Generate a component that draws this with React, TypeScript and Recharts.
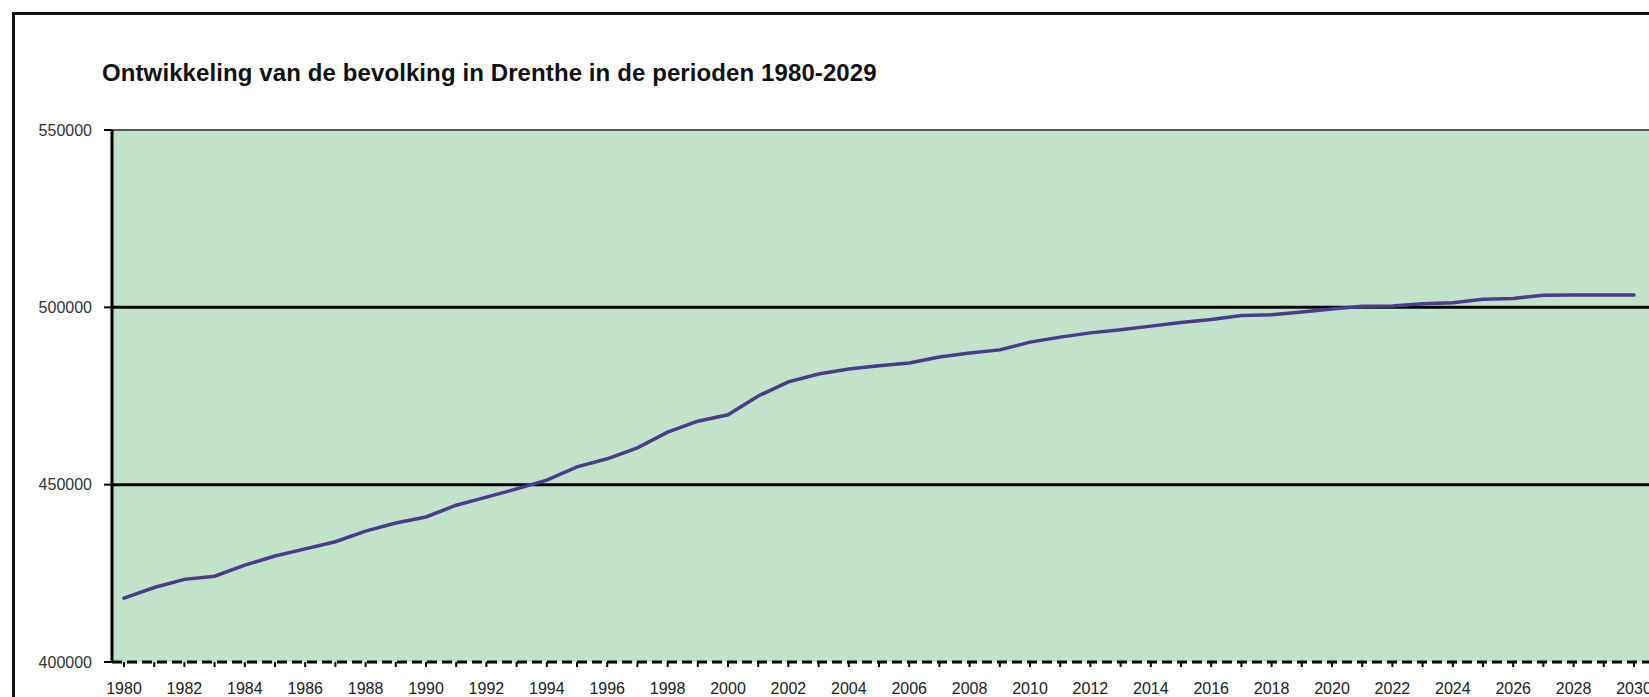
import { LineChart, Line, XAxis, YAxis, CartesianGrid, ReferenceLine } from "recharts";

const years = [
  1980, 1981, 1982, 1983, 1984, 1985, 1986, 1987, 1988, 1989,
  1990, 1991, 1992, 1993, 1994, 1995, 1996, 1997, 1998, 1999,
  2000, 2001, 2002, 2003, 2004, 2005, 2006, 2007, 2008, 2009,
  2010, 2011, 2012, 2013, 2014, 2015, 2016, 2017, 2018, 2019,
  2020, 2021, 2022, 2023, 2024, 2025, 2026, 2027, 2028, 2029, 2030,
];

const population = [
  418000, 421000, 423300, 424200, 427300, 429900, 431900, 433900, 436900, 439200,
  440900, 444200, 446500, 448800, 451300, 455000, 457300, 460400, 464800, 467900,
  469700, 475000, 479000, 481200, 482600, 483500, 484300, 486000, 487100, 488000,
  490200, 491600, 492800, 493700, 494700, 495700, 496600, 497700, 497900, 498700,
  499500, 500300, 500400, 501000, 501300, 502300, 502500, 503400, 503500, 503500, 503500,
];

const labelYears = [
  1980, 1982, 1984, 1986, 1988, 1990, 1992, 1994, 1996, 1998, 2000, 2002, 2004,
  2006, 2008, 2010, 2012, 2014, 2016, 2018, 2020, 2022, 2024, 2026, 2028, 2030,
];

const yTicks = [400000, 450000, 500000, 550000];

const chartData = years.map((year, i) => ({ year, inwoners: population[i] }));

const FONT = "Arial, 'Liberation Sans', sans-serif";

export default function App() {
  return (
    <div
      style={{
        position: "fixed",
        left: 0,
        top: 0,
        width: 1649,
        height: 697,
        overflow: "hidden",
        background: "#fff",
        fontFamily: FONT,
      }}
    >
      <div
        style={{
          position: "absolute",
          left: 12,
          top: 12,
          width: 1700,
          height: 760,
          border: "3px solid #111",
          boxSizing: "border-box",
        }}
      />
      <div
        style={{
          position: "absolute",
          left: 102,
          top: 59,
          fontSize: 24,
          fontWeight: "bold",
          color: "#111",
          whiteSpace: "nowrap",
          letterSpacing: 0.1,
        }}
      >
        Ontwikkeling van de bevolking in Drenthe in de perioden 1980-2029
      </div>
      <div style={{ position: "absolute", left: 0, top: 0 }}>
        <LineChart
          width={1720}
          height={740}
          data={chartData}
          margin={{ top: 130, right: 55, bottom: 38, left: 0 }}
        >
          <CartesianGrid fill="#c2e3ca" stroke="none" vertical={false} horizontal={false} />
          <XAxis
            dataKey="year"
            type="number"
            domain={[1980, 2030]}
            ticks={years}
            interval={0}
            padding={{ left: 12, right: 31 }}
            height={40}
            axisLine={{ stroke: "#000", strokeWidth: 3, strokeDasharray: "10 5" }}
            tickLine={{ stroke: "#000", strokeWidth: 2 }}
            tickSize={5}
            tickMargin={16}
            tickFormatter={(v) => (labelYears.includes(v) ? String(v) : "")}
            tick={{ fontSize: 16, fill: "#222", fontFamily: FONT }}
          />
          <YAxis
            type="number"
            domain={[400000, 550000]}
            ticks={yTicks}
            width={112}
            axisLine={{ stroke: "#000", strokeWidth: 3 }}
            tickLine={{ stroke: "#000", strokeWidth: 2 }}
            tickSize={8}
            tickMargin={12}
            tick={{ fontSize: 16, fill: "#333", fontFamily: FONT }}
          />
          <ReferenceLine y={550000} stroke="#555" strokeWidth={2} />
          <ReferenceLine y={500000} stroke="#000" strokeWidth={3} />
          <ReferenceLine y={450000} stroke="#000" strokeWidth={3} />
          <Line
            type="linear"
            dataKey="inwoners"
            stroke="#4a3b8f"
            strokeWidth={3.5}
            strokeLinecap="round"
            dot={false}
            isAnimationActive={false}
          />
        </LineChart>
      </div>
    </div>
  );
}
